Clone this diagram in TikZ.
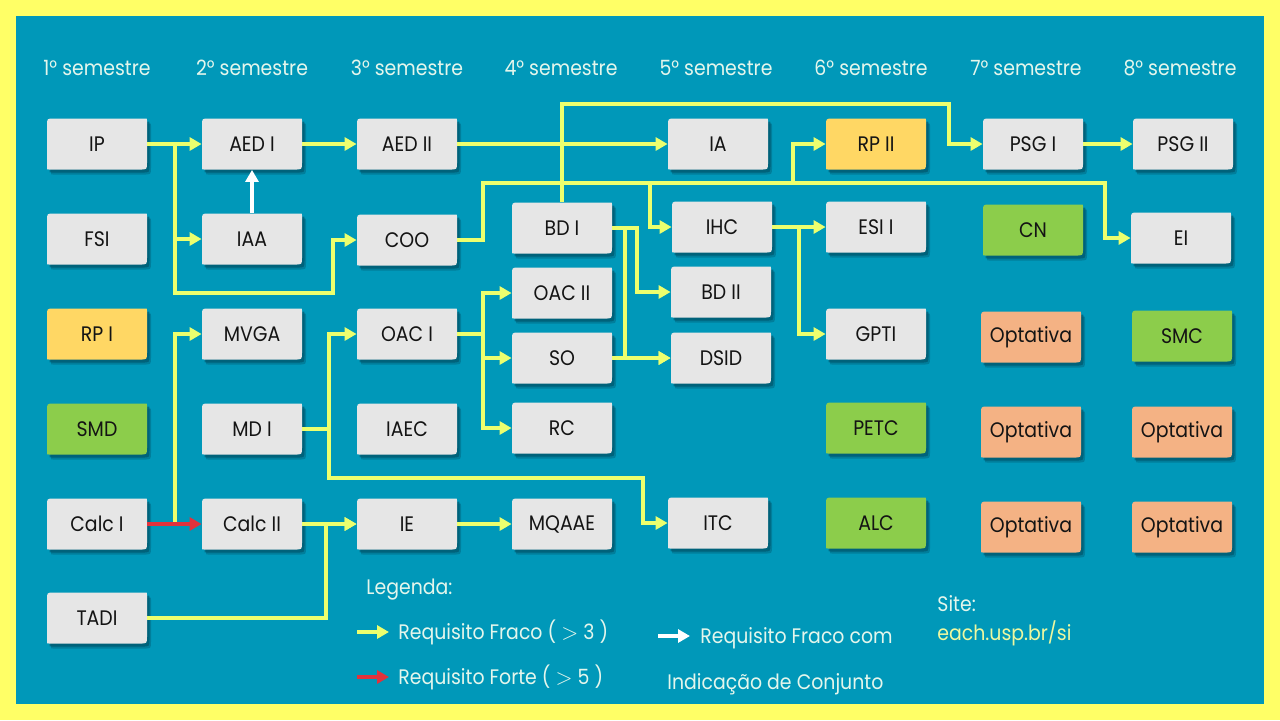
\documentclass[tikz,border=0pt]{standalone}
\usepackage{fontspec}
\setmainfont{Poppins}[FakeStretch=0.9]
\usetikzlibrary{arrows.meta,calc}
\definecolor{bgc}{RGB}{0,152,185}
\definecolor{framec}{RGB}{255,255,102}
\definecolor{arrowy}{RGB}{236,255,110}
\definecolor{arrowr}{RGB}{225,50,60}
\definecolor{grayb}{RGB}{230,230,230}
\definecolor{yellowb}{RGB}{255,215,100}
\definecolor{greenb}{RGB}{140,205,75}
\definecolor{peachb}{RGB}{244,178,132}
\definecolor{shadowc}{RGB}{0,80,100}
\definecolor{paletext}{RGB}{228,246,236}
\definecolor{urltext}{RGB}{238,248,160}
\tikzset{
  yl/.style={draw=arrowy, line width=1.9pt, -{Triangle[length=6pt,width=6.5pt]}},
  rl/.style={draw=arrowr, line width=1.9pt, -{Triangle[length=6pt,width=6.5pt]}},
  wl/.style={draw=white, line width=1.9pt, -{Triangle[length=6pt,width=6.5pt]}},
  boxtext/.style={shape=rectangle, inner sep=0pt, minimum width=50pt, minimum height=25.5pt,
    font=\fontsize{10.5}{12.5}\selectfont, text=black!92},
  head/.style={font=\fontsize{10.5}{12.5}\selectfont, text=paletext},
  legtext/.style={font=\fontsize{10.5}{12.5}\selectfont, text=paletext, anchor=west, inner sep=0pt},
}
\newcommand\gtsym{$>$}
\newcommand\boxpath{(-50,-18.5) -- (-50,23.5) .. controls (-50,25.5) .. (-48,25.5) -- (43,25.5) .. controls (50,25.5) .. (50,18.5) -- (50,-23.5) .. controls (50,-25.5) .. (48,-25.5) -- (-43,-25.5) .. controls (-50,-25.5) .. (-50,-18.5) -- cycle}
\newcommand\crs[5]{%
  \begin{scope}[shift={(#2,#3)}]
    \begin{scope}[shift={(4,5)}]\fill[shadowc,opacity=0.35] \boxpath;\end{scope}
    \begin{scope}[shift={(2.5,3)}]\fill[shadowc,opacity=0.6] \boxpath;\end{scope}
    \fill[#4] \boxpath;
  \end{scope}
  \node[boxtext] (#1) at (#2,#3) {#5};
}
\begin{document}
\begin{tikzpicture}[x=0.5pt,y=-0.5pt]
\useasboundingbox (0,0) rectangle (1280,720);
\fill[framec] (0,0) rectangle (1280,720);
\fill[bgc] (16,16) rectangle (1264,704);

% headers
\node[head] (h1) at (97,68) {1° semestre};
\node[head] (h2) at (252,68) {2° semestre};
\node[head] (h3) at (407,68) {3° semestre};
\node[head] (h4) at (561,68) {4° semestre};
\node[head] (h5) at (716,68) {5° semestre};
\node[head] (h6) at (871,68) {6° semestre};
\node[head] (h7) at (1026,68) {7° semestre};
\node[head] (h8) at (1180,68) {8° semestre};

% column 1
\crs{IP}{97}{144}{grayb}{IP}
\crs{FSI}{97}{239}{grayb}{FSI}
\crs{RPI}{97}{334}{yellowb}{RP I}
\crs{SMD}{97}{429}{greenb}{SMD}
\crs{CalcI}{97}{524}{grayb}{Calc I}
\crs{TADI}{97}{618}{grayb}{TADI}
% column 2
\crs{AEDI}{252}{144}{grayb}{AED I}
\crs{IAA}{252}{239}{grayb}{IAA}
\crs{MVGA}{252}{334}{grayb}{MVGA}
\crs{MDI}{252}{429}{grayb}{MD I}
\crs{CalcII}{252}{524}{grayb}{Calc II}
% column 3
\crs{AEDII}{407}{144}{grayb}{AED II}
\crs{COO}{407}{240}{grayb}{COO}
\crs{OACI}{407}{334}{grayb}{OAC I}
\crs{IAEC}{407}{429}{grayb}{IAEC}
\crs{IE}{407}{524}{grayb}{IE}
% column 4
\crs{BDI}{562}{228}{grayb}{BD I}
\crs{OACII}{562}{293}{grayb}{OAC II}
\crs{SO}{562}{358}{grayb}{SO}
\crs{RC}{562}{428}{grayb}{RC}
\crs{MQAAE}{562}{524}{grayb}{MQAAE}
% column 5
\crs{IA}{718}{144}{grayb}{IA}
\crs{IHC}{722}{227}{grayb}{IHC}
\crs{BDII}{721}{292}{grayb}{BD II}
\crs{DSID}{721}{358}{grayb}{DSID}
\crs{ITC}{718}{523}{grayb}{ITC}
% column 6
\crs{RPII}{876}{144}{yellowb}{RP II}
\crs{ESII}{876}{227}{grayb}{ESI I}
\crs{GPTI}{876}{334}{grayb}{GPTI}
\crs{PETC}{876}{428}{greenb}{PETC}
\crs{ALC}{876}{523}{greenb}{ALC}
% column 7
\crs{PSGI}{1033}{144}{grayb}{PSG I}
\crs{CN}{1033}{230}{greenb}{CN}
\crs{OptA}{1031}{337}{peachb}{Optativa}
\crs{OptB}{1031}{432}{peachb}{Optativa}
\crs{OptC}{1031}{527}{peachb}{Optativa}
% column 8
\crs{PSGII}{1183}{144}{grayb}{PSG II}
\crs{EI}{1181}{238}{grayb}{EI}
\crs{SMC}{1182}{336}{greenb}{SMC}
\crs{OptD}{1182}{432}{peachb}{Optativa}
\crs{OptE}{1182}{527}{peachb}{Optativa}

% junctions
\coordinate (jIP) at (175,144);
\coordinate (jCOO) at (483,240);
\coordinate (jOAC) at (483,334);
\coordinate (jMD) at (329,429);
\coordinate (jCalc) at (175,524);
\coordinate (jIE) at (326,524);
\coordinate (jIHC) at (799,227);

% connectors
\draw[yl] (IP.east) -- (AEDI.west);
\draw[yl] (IP.east) -- (jIP) |- (IAA.west);
\draw[yl] (IP.east) -- (jIP) -- (175,293) -- (333,293) |- (COO.west);
\draw[wl] (IAA.north) -- (AEDI.south);
\draw[yl] (AEDI.east) -- (AEDII.west);
\draw[yl] (AEDII.east) -- (IA.west);
\draw[yl] (COO.east) -- (jCOO) -- (483,183) -- (650,183) |- (IHC.west);
\draw[yl] (COO.east) -- (jCOO) -- (483,183) -- (793,183) |- (RPII.west);
\draw[yl] (COO.east) -- (jCOO) -- (483,183) -- (1105,183) |- (EI.west);
\draw[yl] (BDI.north) -- (562,104) -- (949,104) |- (PSGI.west);
\draw[yl] (BDI.east) -- (637,228) |- (BDII.west);
\draw[yl] (BDI.east) -- (625,228) |- (DSID.west);
\draw[yl] (SO.east) -- (DSID.west);
\draw[yl] (OACI.east) -- (jOAC) |- (OACII.west);
\draw[yl] (OACI.east) -- (jOAC) |- (SO.west);
\draw[yl] (OACI.east) -- (jOAC) |- (RC.west);
\draw[yl] (MDI.east) -- (jMD) |- (OACI.west);
\draw[yl] (MDI.east) -- (jMD) -- (329,478) -- (643,478) |- (ITC.west);
\draw[yl] (CalcI.east) -- (jCalc) |- (MVGA.west);
\draw[rl] (CalcI.east) -- (CalcII.west);
\draw[yl] (CalcII.east) -- (IE.west);
\draw[yl] (TADI.east) -- (326,618) -- (jIE) -- (IE.west);
\draw[yl] (IE.east) -- (MQAAE.west);
\draw[yl] (IHC.east) -- (ESII.west);
\draw[yl] (IHC.east) -- (jIHC) |- (GPTI.west);
\draw[yl] (PSGI.east) -- (PSGII.west);

% legend
\node[legtext] (leg) at (366,590) {Legenda:};
\coordinate (lyA) at (357,632); \coordinate (lyB) at (389,632);
\draw[yl] (lyA) -- (lyB);
\node[legtext] (lf) at (398,632) {Requisito Fraco ( \gtsym\ 3 )};
\coordinate (lrA) at (357,677); \coordinate (lrB) at (389,677);
\draw[rl] (lrA) -- (lrB);
\node[legtext] (lF) at (398,677) {Requisito Forte ( \gtsym\ 5 )};
\coordinate (lwA) at (658,636); \coordinate (lwB) at (690,636);
\draw[wl] (lwA) -- (lwB);
\node[legtext] (lc1) at (700,638) {Requisito Fraco com};
\node[legtext] (lc2) at (667,684) {Indicação de Conjunto};
\node[legtext] (site) at (937,604) {Site:};
\node[legtext, text=urltext] (url) at (937,633) {each.usp.br/si};
\end{tikzpicture}
\end{document}
